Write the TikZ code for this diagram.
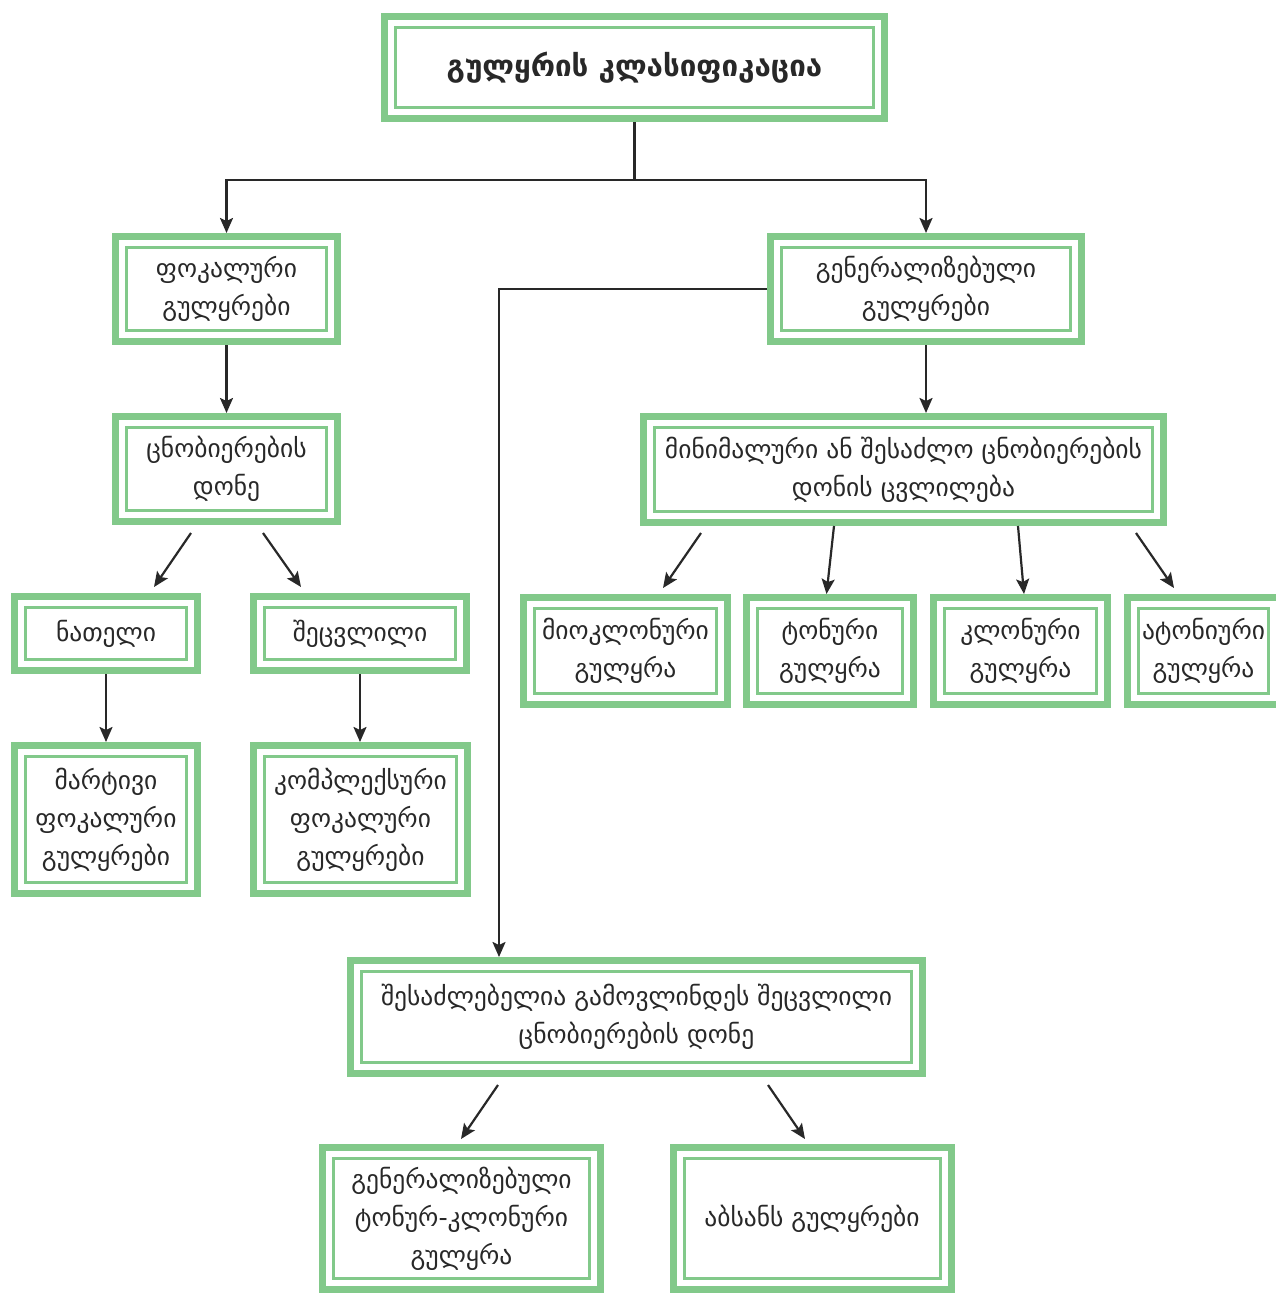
\documentclass[tikz,border=0pt]{standalone}
\usepackage{fontspec}
\setmainfont{DejaVu Sans}
\usetikzlibrary{arrows.meta}
\definecolor{gr}{RGB}{130,201,138}
\definecolor{ink}{RGB}{40,40,40}
\tikzset{
  gbox/.style={draw=gr, line width=7pt, fill=white, inner sep=0pt, align=center,
    text=ink, font=\fontsize{25.5}{38}\selectfont,
    path picture={\draw[gr, line width=3pt]
      ([shift={(11pt,11pt)}]path picture bounding box.south west) rectangle
      ([shift={(-11pt,-11pt)}]path picture bounding box.north east);}},
  arr/.style={draw=ink, line width=2.2pt, -{Stealth[length=15pt,width=13pt,inset=3pt]}},
  link/.style={draw=ink, line width=2.2pt},
}
\begin{document}
\begin{tikzpicture}[x=1pt,y=-1pt]
\useasboundingbox[fill=white] (0,0) rectangle (1276,1293);

% boxes
\node[gbox, minimum width=500pt, minimum height=102pt, font=\bfseries\fontsize{29.5}{38}\selectfont]
  (top) at (634.5,67.5) {გულყრის კლასიფიკაცია};
\node[gbox, minimum width=222pt, minimum height=105pt] (focal) at (226.5,289) {ფოკალური\\გულყრები};
\node[gbox, minimum width=311pt, minimum height=105pt] (gen) at (926,289) {გენერალიზებული\\გულყრები};
\node[gbox, minimum width=222pt, minimum height=105pt] (level) at (226.5,469) {ცნობიერების\\დონე};
\node[gbox, minimum width=520pt, minimum height=106pt] (minim) at (903.5,469.5) {მინიმალური ან შესაძლო ცნობიერების\\დონის ცვლილება};
\node[gbox, minimum width=183pt, minimum height=74pt] (clear) at (106,633.5) {ნათელი};
\node[gbox, minimum width=213pt, minimum height=74pt] (changed) at (360,633.5) {შეცვლილი};
\node[gbox, minimum width=204pt, minimum height=107pt] (myo) at (625.5,651) {მიოკლონური\\გულყრა};
\node[gbox, minimum width=167pt, minimum height=107pt] (tonic) at (830,651) {ტონური\\გულყრა};
\node[gbox, minimum width=174pt, minimum height=107pt] (clonic) at (1020.5,651) {კლონური\\გულყრა};
\node[gbox, minimum width=152pt, minimum height=107pt] (atonic) at (1203.5,651) {ატონიური\\გულყრა};
\node[gbox, minimum width=183pt, minimum height=148pt] (simple) at (106,819.5) {მარტივი\\ფოკალური\\გულყრები};
\node[gbox, minimum width=214pt, minimum height=148pt] (complex) at (360.5,819.5) {კომპლექსური\\ფოკალური\\გულყრები};
\node[gbox, minimum width=572pt, minimum height=113pt] (maybe) at (636.5,1017) {შესაძლებელია გამოვლინდეს შეცვლილი\\ცნობიერების დონე};
\node[gbox, minimum width=278pt, minimum height=142pt] (gtc) at (461.5,1218.5) {გენერალიზებული\\ტონურ-კლონური\\გულყრა};
\node[gbox, minimum width=278pt, minimum height=142pt] (absence) at (812,1218.5) {აბსანს გულყრები};

% tree connectors
\draw[link] (top.south) -- (634.5,180) coordinate (split);
\draw[arr] (split) -| (focal.north);
\draw[arr] (split) -| (gen.north);
\draw[arr] (focal.south) -- (level.north);
\draw[arr] (gen.south) -- (minim.north -| gen.south);
\draw[arr] (clear.south) -- (simple.north);
\draw[arr] (changed.south) -- (complex.north -| changed.south);
\draw[arr] (gen.west) -| ([xshift=-137.5pt]maybe.north);

% free-standing diagonal arrows
\coordinate (l1a) at (191,533);  \coordinate (l1b) at (154,587);
\coordinate (l2a) at (263,533);  \coordinate (l2b) at (301,587);
\draw[arr] (l1a) -- (l1b);
\draw[arr] (l2a) -- (l2b);

\coordinate (m1a) at (701,533);  \coordinate (m1b) at (663,588);
\draw[arr] (m1a) -- (m1b);
\draw[arr] ([xshift=-69.5pt]minim.south) -- ([xshift=-3.5pt]tonic.north);
\draw[arr] ([xshift=114.5pt]minim.south) -- ([xshift=3.5pt]clonic.north);
\coordinate (m4a) at (1136,533); \coordinate (m4b) at (1174,588);
\draw[arr] (m4a) -- (m4b);

\coordinate (b1a) at (498,1085); \coordinate (b1b) at (461,1139);
\coordinate (b2a) at (768,1085); \coordinate (b2b) at (805,1139);
\draw[arr] (b1a) -- (b1b);
\draw[arr] (b2a) -- (b2b);
\end{tikzpicture}
\end{document}
